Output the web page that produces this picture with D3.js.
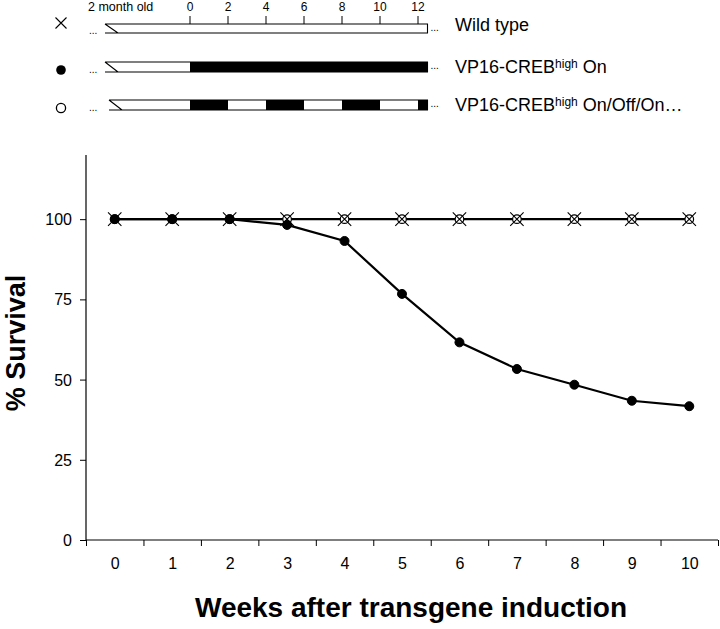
<!DOCTYPE html>
<html><head><meta charset="utf-8">
<script src="https://cdn.jsdelivr.net/npm/d3@7"></script>
<style>body{margin:0;background:#fff}svg{display:block}text{font-family:"Liberation Sans",Arial,sans-serif;fill:#000}</style>
</head><body>
<svg id="c" width="720" height="629"></svg>
<script>
const weeks = [0,1,2,3,4,5,6,7,8,9,10];
const wildType = [100,100,100,100,100,100,100,100,100,100,100];
const onOffOn = [100,100,100,100,100,100,100,100,100,100,100];
const crebOn = [100,100,100,98.2,93.2,76.7,61.6,53.3,48.4,43.4,41.7];
const yTicks = [0,25,50,75,100];
const timeTicks = [0,2,4,6,8,10,12];
const onSegments = [[0,12.5]];
const onOffSegments = [[0,2],[4,6],[8,10],[12,12.5]];
const legendLabels = ["Wild type","VP16-CREB","VP16-CREB"];

const svg = d3.select("#c");
const x = d3.scaleLinear().domain([-0.5,10.5]).range([86,718]);
const y = d3.scaleLinear().domain([0,120]).range([540,155]);

// y axis
const ya = svg.append("g").attr("transform","translate(86,0)")
  .call(d3.axisLeft(y).tickValues(yTicks).tickSize(6).tickPadding(8));
ya.select(".domain").attr("d","M0,540V155").attr("stroke","#000").attr("stroke-width",1.2);
ya.selectAll("text").style("font-size","16px").attr("dy","0.35em");
ya.selectAll("line").attr("stroke","#000");

// x axis ticks (at band boundaries)
const halfs = weeks.map(w=>w-0.5).concat([10.5]);
const xa = svg.append("g").attr("transform","translate(0,540)")
  .call(d3.axisBottom(x).tickValues(halfs).tickSize(6).tickFormat(""));
xa.select(".domain").attr("d","M86,0H718").attr("stroke","#000").attr("stroke-width",1.2);
xa.selectAll("line").attr("stroke","#000");
const xl = svg.append("g").attr("transform","translate(0,540)")
  .call(d3.axisBottom(x).tickValues(weeks).tickSize(0).tickPadding(18));
xl.select(".domain").remove();
xl.selectAll("text").style("font-size","16px");

// axis titles
svg.append("text").attr("x",411).attr("y",617).attr("text-anchor","middle")
  .style("font-size","28px").style("font-weight","bold").text("Weeks after transgene induction");
svg.append("text").attr("transform","translate(25,343) rotate(-90)").attr("text-anchor","middle")
  .style("font-size","27px").style("font-weight","bold").text("% Survival");

const line = d3.line().x((d,i)=>x(weeks[i])).y(d=>y(d));
svg.append("path").datum(wildType).attr("d",line).attr("fill","none").attr("stroke","#000").attr("stroke-width",2.4);
svg.append("path").datum(crebOn).attr("d",line).attr("fill","none").attr("stroke","#000").attr("stroke-width",2.2);

function xMark(g,cx,cy,s){
  g.append("path").attr("d",`M${cx-s},${cy-s}L${cx+s},${cy+s}M${cx-s},${cy+s}L${cx+s},${cy-s}`)
   .attr("stroke","#000").attr("stroke-width",1.1).attr("fill","none");
}
const mk = svg.append("g");
onOffOn.forEach((v,i)=>mk.append("circle").attr("cx",x(weeks[i])).attr("cy",y(v)).attr("r",4.3)
  .attr("fill","#fff").attr("stroke","#000").attr("stroke-width",1.2));
crebOn.forEach((v,i)=>mk.append("circle").attr("cx",x(weeks[i])).attr("cy",y(v)).attr("r",4.5)
  .attr("fill","#000").attr("stroke","#000").attr("stroke-width",1));
wildType.forEach((v,i)=>xMark(mk,x(weeks[i]),y(v),6.7));

// top legend / timeline
const t = d3.scaleLinear().domain([0,12]).range([190,418]);
const leg = svg.append("g");
xMark(leg,61,23,5.5);
leg.append("circle").attr("cx",61).attr("cy",70).attr("r",4.8).attr("fill","#000");
leg.append("circle").attr("cx",61).attr("cy",108).attr("r",4.6).attr("fill","#fff").attr("stroke","#000").attr("stroke-width",1.3);

leg.append("text").attr("x",88).attr("y",11).style("font-size","12.5px").text("2 month old");
timeTicks.forEach(d=>{
  leg.append("text").attr("x",t(d)).attr("y",11).attr("text-anchor","middle").style("font-size","12px").text(d);
  leg.append("line").attr("x1",t(d)).attr("x2",t(d)).attr("y1",16).attr("y2",24).attr("stroke","#000").attr("stroke-width",1);
});

const rows = [
  {top:24,bot:33,x0:105,segs:[]},
  {top:62,bot:72,x0:105,segs:onSegments},
  {top:100,bot:110,x0:109,segs:onOffSegments}
];
const xEnd = t(12.5);
rows.forEach(r=>{
  const g = leg.append("g");
  g.append("path").attr("d",`M${r.x0+13},${r.bot}L${xEnd},${r.bot}L${xEnd},${r.top}L${r.x0},${r.top}Z`).attr("fill","#fff").attr("stroke","none");
  r.segs.forEach(s=>g.append("rect").attr("x",t(s[0])).attr("y",r.top).attr("width",t(s[1])-t(s[0])).attr("height",r.bot-r.top).attr("fill","#000"));
  g.append("path").attr("d",`M${r.x0},${r.top}H${xEnd}V${r.bot}H${r.x0}M${r.x0},${r.top}L${r.x0+13},${r.bot}`)
    .attr("fill","none").attr("stroke","#000").attr("stroke-width",1.1);
  g.append("text").attr("x",89).attr("y",r.bot+1).style("font-size","10px").text("...");
  g.append("text").attr("x",xEnd+3).attr("y",(r.top+r.bot)/2+2).style("font-size","10px").text("...");
});

const ly = [31,73,111];
leg.append("text").attr("x",455).attr("y",ly[0]).style("font-size","18px").text(legendLabels[0]);
[1,2].forEach(i=>{
  const tx = leg.append("text").attr("x",455).attr("y",ly[i]).style("font-size","18px");
  tx.append("tspan").text(legendLabels[i]);
  tx.append("tspan").attr("dy",-5).style("font-size","12px").text("high");
  tx.append("tspan").attr("dy",5).text(i===1?" On":" On/Off/On…");
});
</script>
</body></html>
